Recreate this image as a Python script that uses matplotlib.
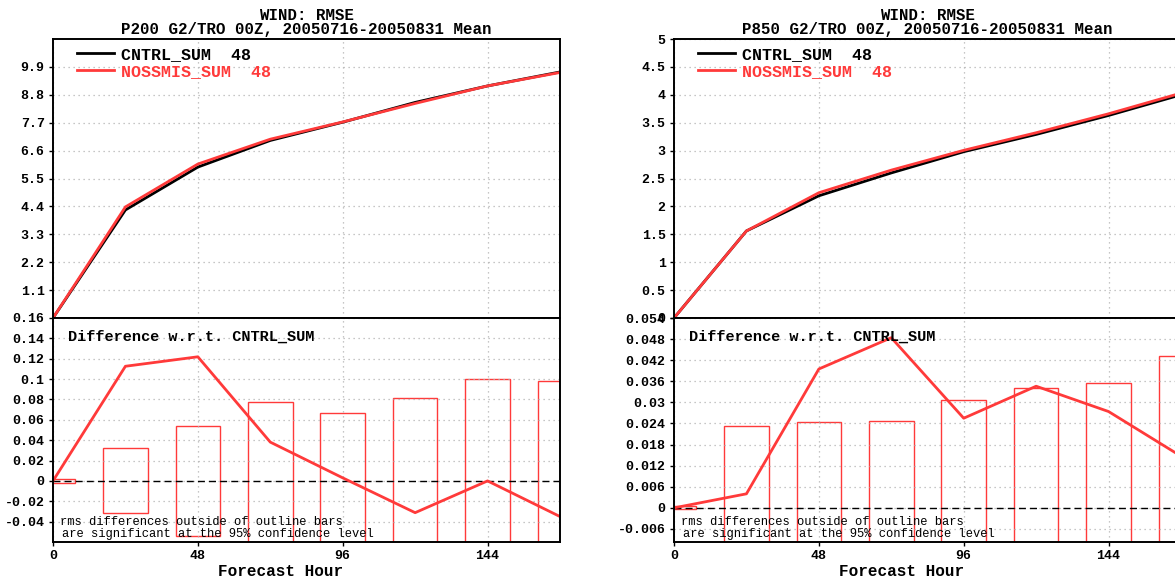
import matplotlib
matplotlib.use("Agg")
import matplotlib.pyplot as plt
import numpy as np

# forecast hours
hours = [0, 24, 48, 72, 96, 120, 144, 168]
legend_labels = ["CNTRL_SUM  48", "NOSSMIS_SUM  48"]

# P200 panel
p200_title = "P200 G2/TRO 00Z, 20050716-20050831 Mean"
p200_cntrl = [0.0, 4.26, 5.95, 7.00, 7.72, 8.50, 9.15, 9.70]
p200_noss = [0.0, 4.38, 6.07, 7.05, 7.73, 8.46, 9.15, 9.68]
p200_diff = [0.0, 0.1126, 0.1219, 0.0381, 0.003, -0.0312, 0.0, -0.035]
p200_bars = [0.002, 0.032, 0.054, 0.0778, 0.0667, 0.0811, 0.1002, 0.0978]
p200_top_ticks = [1.1, 2.2, 3.3, 4.4, 5.5, 6.6, 7.7, 8.8, 9.9]
p200_top_labels = ["1.1", "2.2", "3.3", "4.4", "5.5", "6.6", "7.7", "8.8", "9.9"]
p200_bot_ticks = [-0.04, -0.02, 0.0, 0.02, 0.04, 0.06, 0.08, 0.1, 0.12, 0.14, 0.16]
p200_bot_labels = ["-0.04", "-0.02", "0", "0.02", "0.04", "0.06", "0.08",
                   "0.1", "0.12", "0.14", "0.16"]

# P850 panel
p850_title = "P850 G2/TRO 00Z, 20050716-20050831 Mean"
p850_cntrl = [0.0, 1.56, 2.19, 2.60, 2.98, 3.29, 3.63, 4.00]
p850_noss = [0.0, 1.56, 2.245, 2.65, 3.005, 3.32, 3.66, 4.03]
p850_diff = [0.0, 0.0040, 0.0395, 0.0484, 0.0255, 0.0346, 0.0274, 0.0147]
p850_bars = [0.0004, 0.0234, 0.0245, 0.0248, 0.0307, 0.0341, 0.0356, 0.0432]
p850_top_ticks = [0, 0.5, 1, 1.5, 2, 2.5, 3, 3.5, 4, 4.5, 5]
p850_top_labels = ["0", "0.5", "1", "1.5", "2", "2.5", "3", "3.5", "4", "4.5", "5"]
p850_bot_ticks = [-0.006, 0.0, 0.006, 0.012, 0.018, 0.024, 0.03, 0.036,
                  0.042, 0.048, 0.054]
p850_bot_labels = ["-0.006", "0", "0.006", "0.012", "0.018", "0.024", "0.03",
                   "0.036", "0.042", "0.048", "0.054"]

RED = "#ff3a3a"
FONT = "Liberation Mono"
W, H = 1175.0, 579.0


def panel(fig, x0, title, cntrl, noss, diff, bars, top_lim, top_ticks,
          top_labels, bot_lim, bot_ticks, bot_labels):
    """x0 is the left edge of the panel in pixels"""
    left = x0 / W
    width = 507 / W
    ax1 = fig.add_axes([left, (H - 318) / H, width, 279 / H])
    ax2 = fig.add_axes([left, (H - 542) / H, width, 224 / H])

    for ax in (ax1, ax2):
        ax.set_xlim(0, 168)
        ax.set_xticks([0, 48, 96, 144])
        ax.grid(True, color="#b4b4b4", linestyle=(0, (1, 3)), linewidth=0.9)
        for s in ax.spines.values():
            s.set_linewidth(1.4)
        ax.tick_params(direction="out", length=3, width=1, pad=3)

    # top: rmse curves
    ax1.plot(hours, cntrl, color="black", lw=2.0, label=legend_labels[0])
    ax1.plot(hours, noss, color=RED, lw=2.0, label=legend_labels[1])
    ax1.set_ylim(*top_lim)
    ax1.set_yticks(top_ticks)
    ax1.set_yticklabels(top_labels, fontfamily=FONT, fontweight="bold",
                        fontsize=9.5)
    ax1.tick_params(axis="x", bottom=False, labelbottom=False)
    leg = ax1.legend(loc="upper left", bbox_to_anchor=(0.018, 1.025),
                     frameon=False, handlelength=2.2, handletextpad=0.45,
                     labelspacing=0.1,
                     prop={"family": FONT, "weight": "bold", "size": 12})
    for txt, c in zip(leg.get_texts(), ["black", RED]):
        txt.set_color(c)

    # bottom: difference and significance bars
    h = np.asarray(bars)
    ax2.bar(hours, 2 * h, bottom=-h, width=14.8, fill=False,
            edgecolor=RED, linewidth=1.0)
    ax2.axhline(0, color="black", lw=1.0, linestyle=(0, (5, 3)))
    ax2.plot(hours, diff, color=RED, lw=2.0)
    ax2.set_ylim(*bot_lim)
    ax2.set_yticks(bot_ticks)
    ax2.set_yticklabels(bot_labels, fontfamily=FONT, fontweight="bold",
                        fontsize=9.5)
    ax2.set_xticklabels(["0", "48", "96", "144"], fontfamily=FONT,
                        fontweight="bold", fontsize=9.5)
    ax2.text(0.03, 0.915, "Difference w.r.t. CNTRL_SUM", transform=ax2.transAxes,
             fontfamily=FONT, fontweight="bold", fontsize=11, va="center")
    ax2.text(0.014, 0.089, "rms differences outside of outline bars",
             transform=ax2.transAxes, fontfamily=FONT, fontsize=8.7,
             va="center")
    ax2.text(0.017, 0.036, "are significant at the 95% confidence level",
             transform=ax2.transAxes, fontfamily=FONT, fontsize=8.7,
             va="center")

    cx = x0 + 253.5
    fig.text(cx / W, 1 - 15 / H, "WIND: RMSE", ha="center", va="center",
             fontfamily=FONT, fontweight="bold", fontsize=11.3)
    fig.text(cx / W, 1 - 29.5 / H, title, ha="center", va="center",
             fontfamily=FONT, fontweight="bold", fontsize=11.3)
    fig.text((x0 + 228) / W, 1 - 572 / H, "Forecast Hour", ha="center",
             va="center", fontfamily=FONT, fontweight="bold", fontsize=11.5)
    return ax1, ax2


fig = plt.figure(figsize=(11.75, 5.79), dpi=100)
panel(fig, 53, p200_title, p200_cntrl, p200_noss, p200_diff, p200_bars,
      (0, 11), p200_top_ticks, p200_top_labels, (-0.06, 0.16),
      p200_bot_ticks, p200_bot_labels)
panel(fig, 674, p850_title, p850_cntrl, p850_noss, p850_diff, p850_bars,
      (0, 5), p850_top_ticks, p850_top_labels, (-0.0097, 0.054),
      p850_bot_ticks, p850_bot_labels)
fig.savefig("out.png", dpi=100)
